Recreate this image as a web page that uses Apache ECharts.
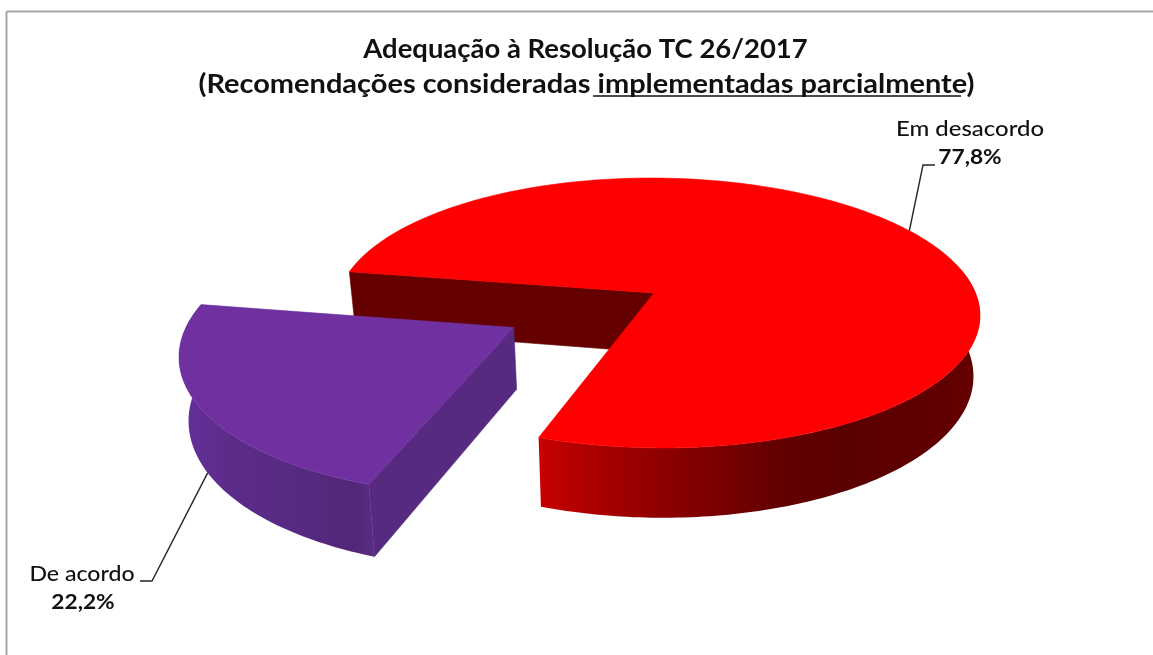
<!DOCTYPE html>
<html>
<head>
<meta charset="utf-8">
<style>html,body{margin:0;padding:0;background:#fff}#chart{width:1153px;height:655px}</style>
<script src="https://cdn.jsdelivr.net/npm/echarts@6/dist/echarts.min.js"></script>
</head>
<body>
<div id="chart"></div>
<script>
// Slice data
const categories = ['Em desacordo', 'De acordo'];
const shares = [77.8, 22.2];
const titleLines = ['Adequação à Resolução TC 26/2017', '(Recomendações consideradas implementadas parcialmente)'];

// Perspective view of the pie disc
const view = {
  cx: 654, cy: 293,        // where the disc centre lands on screen
  rx: 318.5, ry: 132,      // radii before perspective
  rimShift: 3,             // outer rim sits slightly right of the centre point
  k: 0.148,                // perspective strength toward the viewer
  shear: 6,                // slight rightward lean of the near side
  depth: 59.5,             // extrusion height at the disc centre
  taper: 0.02,             // narrowing of the lower rim
  firstAngle: 279.5        // clockwise from twelve o'clock
};
const explode = [0, 0.497];

// Per-slice styling and label layout
const looks = [
  {
    top: '#ff0000', inner: '#640000', leaderOnLowerRim: false,
    wall: [[0, '#c80000'], [0.14, '#a80000'], [0.3, '#8a0000'], [0.55, '#620000'], [0.7, '#5a0000'], [1, '#640000']],
    elbow: [[923, 165], [935, 165]], nameAt: [970, 129], valueAt: [970, 157], nameStretch: 1.14
  },
  {
    top: '#7030a0', inner: '#552a80', leaderOnLowerRim: true,
    wall: [[0, '#65309a'], [0.3, '#5a2b88'], [0.6, '#572a82'], [0.9, '#522678'], [1, '#5a2c86']],
    elbow: [[152, 581], [140, 581]], nameAt: [82, 574], valueAt: [83, 602], nameStretch: 1.1
  }
];

const rad = d => d * Math.PI / 180;
const total = shares.reduce((a, b) => a + b, 0);

// Start and end angle of each slice, taken from its share
const spans = [];
shares.reduce((start, v) => {
  const end = start + v / total * 360;
  spans.push([start, end]);
  return end;
}, view.firstAngle);

// Disc coordinates to screen; lower=true gives the bottom face of the solid
function project(u, v, lower, shift) {
  const s = 1 - view.k * v;
  let x = view.cx + (shift || 0) + view.rx * u / s + view.shear * v;
  let y = view.cy + view.ry * v / s;
  if (lower) {
    x += (view.cx - x) * view.taper;
    y += view.depth / s;
  }
  return [x, y];
}
function offsetOf(i) {
  const mid = rad((spans[i][0] + spans[i][1]) / 2);
  return [Math.sin(mid) * explode[i], -Math.cos(mid) * explode[i]];
}
function rim(i, deg, lower) {
  const o = offsetOf(i);
  return project(Math.sin(rad(deg)) + o[0], -Math.cos(rad(deg)) + o[1], lower, view.rimShift);
}
function apex(i, lower) {
  const o = offsetOf(i);
  return project(o[0], o[1], lower);
}
function arc(i, from, to, lower) {
  const pts = [];
  const n = Math.max(2, Math.ceil(Math.abs(to - from)));
  for (let j = 0; j <= n; j++) pts.push(rim(i, from + (to - from) * j / n, lower));
  return pts;
}
const poly = (points, fill, z2, edge) => ({
  type: 'polygon', z2: z2,
  shape: { points: points },
  style: { fill: fill, stroke: edge || null, lineWidth: edge ? 0.6 : 0 }
});

// Stretch of a slice's outer wall that faces the viewer, walking back from its end angle
function wallRange(i) {
  const [a0, a1] = spans[i];
  let d = a1;
  while (d > a0) {
    const next = Math.max(a0, d - 0.5);
    const m = ((next % 360) + 360) % 360;
    if (m < 79 || m > 282) break;
    d = next;
  }
  return [d, a1];
}

function renderSlice(params) {
  const i = params.dataIndex;
  const look = looks[i];
  const [a0, a1] = spans[i];
  const kids = [];
  const range = wallRange(i);

  // outer wall
  const wallPts = arc(i, range[0], range[1], false).concat(arc(i, range[1], range[0], true));
  kids.push(poly(wallPts, new echarts.graphic.LinearGradient(0, 0, 1, 0,
    look.wall.map(s => ({ offset: s[0], color: s[1] }))), 1));

  // radial wall at the slice's start angle
  kids.push(poly([rim(i, a0, false), apex(i, false), apex(i, true), rim(i, a0, true)], look.inner, 2, look.inner));

  // top face
  kids.push(poly(arc(i, a0, a1, false).concat([apex(i, false)]), look.top, 3, look.top));

  // leader line from the rim at mid-angle
  const anchor = rim(i, (a0 + a1) / 2, look.leaderOnLowerRim);
  kids.push({
    type: 'polyline', z2: 4,
    shape: { points: [anchor].concat(look.elbow) },
    style: { fill: null, stroke: '#262626', lineWidth: 1.4 }
  });

  // category and percentage
  kids.push({
    type: 'text', z2: 5, x: look.nameAt[0], y: look.nameAt[1], scaleX: look.nameStretch,
    style: { text: categories[i], fill: '#111', font: '500 21px Lato', align: 'center', verticalAlign: 'middle' }
  });
  kids.push({
    type: 'text', z2: 5, x: look.valueAt[0], y: look.valueAt[1], scaleX: 1.08,
    style: { text: shares[i].toFixed(1).replace('.', ',') + '%', fill: '#111', font: '700 21px Lato', align: 'center', verticalAlign: 'middle' }
  });
  return { type: 'group', children: kids };
}

const titleFont = '700 26px Lato';
const chart = echarts.init(document.getElementById('chart'), null, { renderer: 'canvas' });
chart.setOption({
  animation: false,
  backgroundColor: '#ffffff',
  graphic: [
    { type: 'line', silent: true, shape: { x1: 6.5, y1: 11.5, x2: 1153, y2: 11.5 }, style: { stroke: '#a6a6a6', lineWidth: 2 } },
    { type: 'line', silent: true, shape: { x1: 6.5, y1: 11.5, x2: 6.5, y2: 655 }, style: { stroke: '#a6a6a6', lineWidth: 2 } },
    { type: 'text', silent: true, x: 585.5, y: 50, scaleX: 1.056,
      style: { text: titleLines[0], font: titleFont, fill: '#111', align: 'center', verticalAlign: 'middle' } },
    { type: 'text', silent: true, x: 586.5, y: 85, scaleX: 1.114,
      style: { text: titleLines[1], font: titleFont, fill: '#111', align: 'center', verticalAlign: 'middle' } },
    { type: 'line', silent: true, shape: { x1: 593, y1: 96, x2: 961, y2: 96 }, style: { stroke: '#111', lineWidth: 1.5 } }
  ],
  series: [{
    type: 'custom',
    coordinateSystem: 'none',
    silent: true,
    data: shares,
    renderItem: renderSlice
  }]
});
</script>
</body>
</html>
